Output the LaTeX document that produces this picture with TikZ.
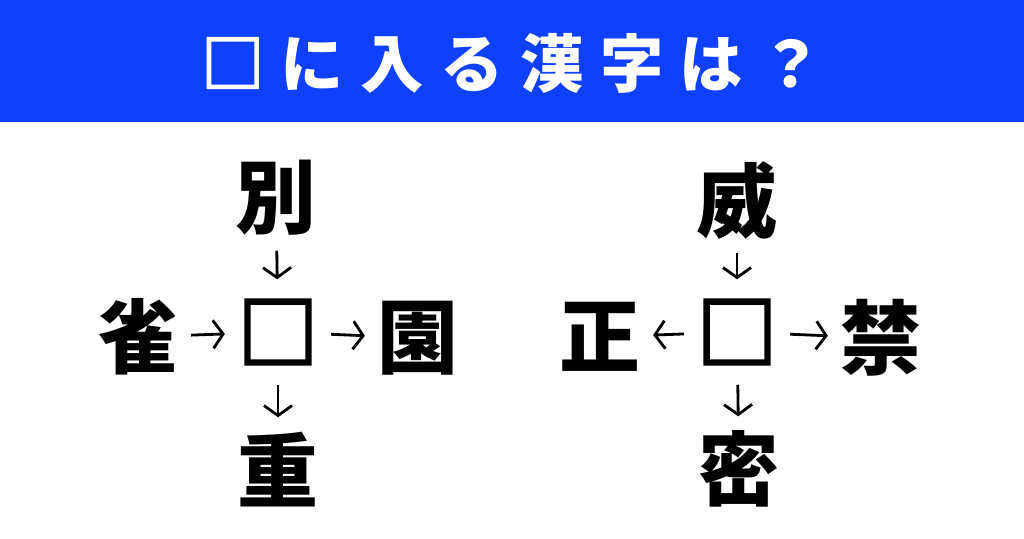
\documentclass[tikz,border=0pt]{standalone}
\usepackage{fontspec}
\newfontfamily\cjk{Noto Sans CJK JP}
\newfontfamily\cjkbox[BoldFeatures={FakeBold=3}]{Noto Sans CJK JP}
\newfontfamily\cjktitle[LetterSpace=26]{Noto Sans CJK JP}
\newfontfamily\cjktitlebox[BoldFeatures={FakeBold=2.5}]{Noto Sans CJK JP}
\usetikzlibrary{arrows.meta}
\definecolor{banner}{RGB}{16,64,255}
\tikzset{
    kanji/.style={minimum size=0.8cm, inner sep=0pt, font=\cjk\bfseries\fontsize{23}{23}\selectfont},
    blank/.style={kanji, font=\cjkbox\bfseries\fontsize{23}{23}\selectfont},
    arr/.style={draw, line width=0.8pt, -{Straight Barb[length=1mm, width=2.8mm]}, shorten <=0.12cm, shorten >=0.12cm},
    heading/.style={text=white, inner sep=0pt, font=\cjktitle\bfseries\fontsize{18}{18}\selectfont}
}

\begin{document}
\begin{tikzpicture}[x=0.01cm, y=-0.01cm]
    \useasboundingbox (0,0) rectangle (1024,538);
    \fill[banner] (0,0) rectangle (1024,122);
    \node[heading] (title) at (512,63) {{\cjktitlebox\bfseries □}\kern4.7pt に入る漢字は？};

    % Nodes
    \node[blank] (L) at (278,332) {□};
    \node[kanji] (Ltop) at (276,198) {別};
    \node[kanji] (Lleft) at (138,337) {雀};
    \node[kanji] (Lright) at (418,338) {園};
    \node[kanji] (Lbot) at (278,470) {重};

    \node[blank] (R) at (737,332) {□};
    \node[kanji] (Rtop) at (737,200) {威};
    \node[kanji] (Rleft) at (600,337) {正};
    \node[kanji] (Rright) at (881,338) {禁};
    \node[kanji] (Rbot) at (739,469) {密};

    % edges
    \draw[arr] (Ltop) -- (L);
    \draw[arr] (Lleft) -- (L);
    \draw[arr] (L) -- (Lright);
    \draw[arr] (L) -- (Lbot);
    \draw[arr] (Rtop) -- (R);
    \draw[arr] (R) -- (Rleft);
    \draw[arr] (R) -- (Rright);
    \draw[arr] (R) -- (Rbot);
\end{tikzpicture}
\end{document}
